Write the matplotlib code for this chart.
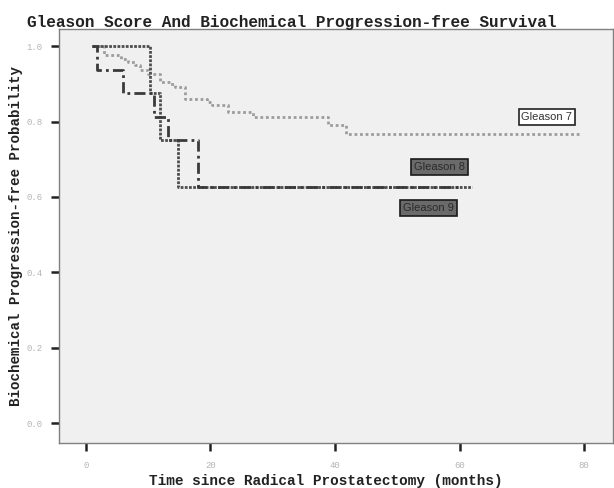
import matplotlib
matplotlib.use("Agg")
import matplotlib.pyplot as plt

# Kaplan-Meier steps (months, survival probability)
g7_time = [1, 3, 5.7, 6.8, 7.9, 8.7, 10, 11.9, 13.5, 14.3, 15.9, 19.4, 20.2, 22.8, 26.8, 38.8, 41.8, 79.3]
g7_surv = [1.0, 0.976, 0.967, 0.958, 0.950, 0.936, 0.925, 0.905, 0.900, 0.892, 0.861, 0.853, 0.844,
           0.826, 0.811, 0.790, 0.767, 0.767]

g8_time = [1, 10.3, 11.9, 14.8, 62]
g8_surv = [1.0, 0.875, 0.75, 0.625, 0.625]

g9_time = [1, 1.8, 6, 11, 13.2, 18, 60]
g9_surv = [1.0, 0.9375, 0.875, 0.8125, 0.75, 0.625, 0.625]

x_ticks = [0, 20, 40, 60, 80]
y_ticks = [0.0, 0.2, 0.4, 0.6, 0.8, 1.0]

MONO = "Liberation Mono"

fig = plt.figure(figsize=(6.14, 4.88), dpi=100)
ax = fig.add_axes([0.0961, 0.0922, 0.902, 0.848])
ax.set_facecolor("#f0f0f0")

ax.step(g7_time, g7_surv, where="post", color="#9c9c9c", lw=2.0, linestyle=(0, (1, 1)))
ax.step(g8_time, g8_surv, where="post", color="#4e4e4e", lw=2.0, linestyle=(0, (1, 0.5)))
ax.step(g9_time, g9_surv, where="post", color="#3a3a3a", lw=2.0, linestyle=(0, (4, 1.5, 1, 1.5)))

ax.set_xlim(-4.3, 84.6)
ax.set_ylim(-0.053, 1.045)
ax.set_xticks(x_ticks)
ax.set_yticks(y_ticks)
ax.set_xticklabels([str(t) for t in x_ticks])
ax.set_yticklabels([f"{t:.1f}" for t in y_ticks])
ax.tick_params(axis="both", direction="out", length=6, width=1.8, color="#222222",
               labelcolor="#b5b5b5", labelsize=6.5)
ax.tick_params(axis="y", pad=6)
ax.tick_params(axis="x", pad=7)
for lab in ax.get_xticklabels() + ax.get_yticklabels():
    lab.set_fontfamily(MONO)
for side in ax.spines.values():
    side.set_color("#808080")
    side.set_linewidth(1.0)

# axis titles placed where the reference has them
fig.text(326 / 614, 1 - 481 / 488, "Time since Radical Prostatectomy (months)",
         fontfamily=MONO, fontweight="bold", fontsize=10.4, color="#222222",
         ha="center", va="center")
fig.text(16 / 614, 1 - 236 / 488, "Biochemical Progression-free Probability",
         fontfamily=MONO, fontweight="bold", fontsize=10.2, color="#222222",
         ha="center", va="center", rotation=90)
fig.text(27 / 614, 1 - 22 / 488, "Gleason Score And Biochemical Progression-free Survival",
         fontfamily=MONO, fontweight="bold", fontsize=11.6, color="#222222",
         ha="left", va="center")

# curve labels
ax.text(74, 0.812, "Gleason 7", fontsize=8, color="#333333", ha="center", va="center",
        fontfamily="Liberation Sans",
        bbox=dict(boxstyle="square,pad=0.25", fc="white", ec="#222222", lw=1.2))
ax.text(56.8, 0.679, "Gleason 8", fontsize=8, color="#2a2a2a", ha="center", va="center",
        fontfamily="Liberation Sans",
        bbox=dict(boxstyle="square,pad=0.25", fc="#6a6a6a", ec="#1a1a1a", lw=1.2))
ax.text(55, 0.570, "Gleason 9", fontsize=8, color="#2a2a2a", ha="center", va="center",
        fontfamily="Liberation Sans",
        bbox=dict(boxstyle="square,pad=0.25", fc="#6a6a6a", ec="#1a1a1a", lw=1.2))

fig.savefig("out.png", dpi=100)
